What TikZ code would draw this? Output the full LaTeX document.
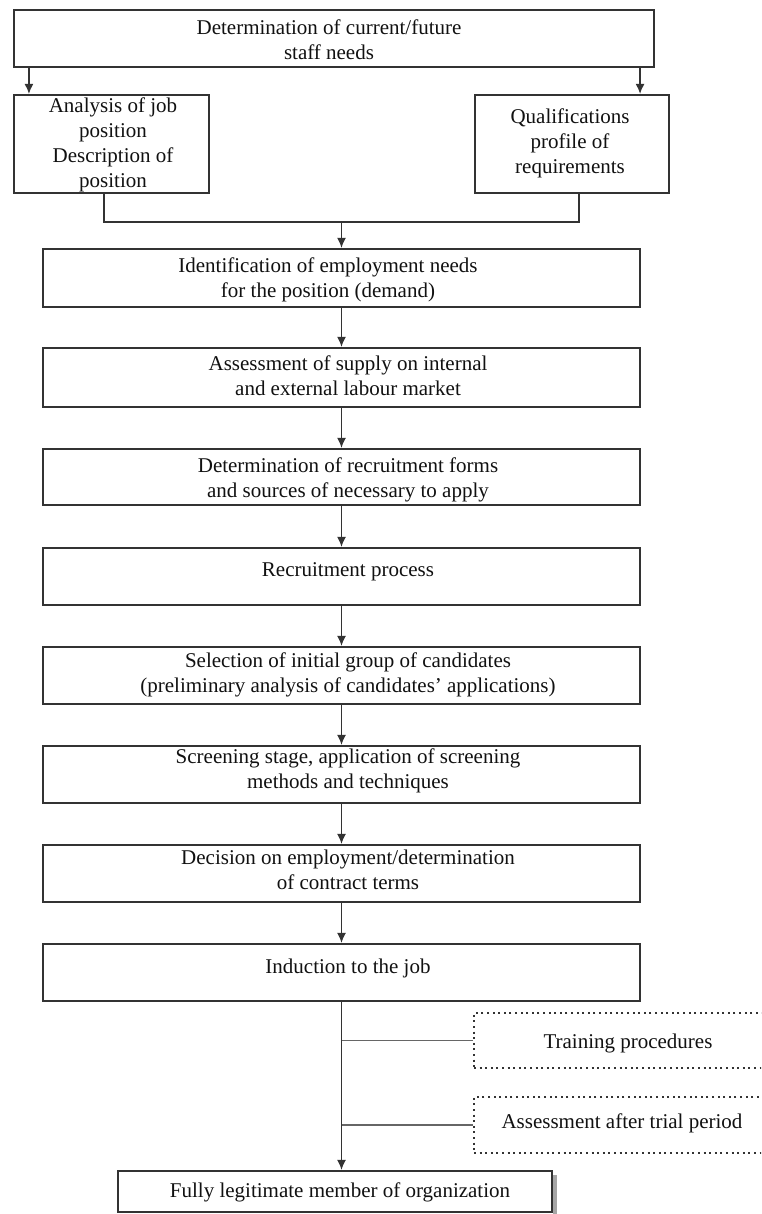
\documentclass[tikz,border=0pt]{standalone}
\usepackage{fontspec}
\setmainfont{Liberation Serif}
\usetikzlibrary{arrows.meta}
\definecolor{ink}{HTML}{333333}
\definecolor{txtc}{HTML}{111111}
\begin{document}
\begin{tikzpicture}[x=1pt,y=1pt,
  box/.style={draw=ink, line width=2.1pt, fill=white, inner sep=0pt},
  dbox/.style={draw=ink, line width=2pt, dash pattern=on 2pt off 3.6pt, inner sep=0pt},
  txt/.style={text=txtc, align=center, font=\fontsize{21}{25}\selectfont, inner sep=0pt},
  arr/.style={draw=ink, line width=1.6pt, -{Latex[length=10pt,width=9pt]}},
  con/.style={draw=ink, line width=1.6pt},
  branch/.style={draw=ink!75, line width=1.6pt}]
\useasboundingbox (0,0) rectangle (761,-1214);
\fill[white] (0,0) rectangle (761,-1214);
\clip (0,0) rectangle (761,-1214);

% boxes
\node[box, minimum width=640pt, minimum height=57pt] (T) at (334,-38.5) {};
\node[box, minimum width=195pt, minimum height=98pt] (L) at (111.5,-144) {};
\node[box, minimum width=194pt, minimum height=98pt] (R) at (572,-144) {};
\node[box, minimum width=597pt, minimum height=58pt] (B1) at (341.5,-278) {};
\node[box, minimum width=597pt, minimum height=59pt] (B2) at (341.5,-377.5) {};
\node[box, minimum width=597pt, minimum height=56pt] (B3) at (341.5,-477) {};
\node[box, minimum width=597pt, minimum height=57pt] (B4) at (341.5,-576.5) {};
\node[box, minimum width=597pt, minimum height=57pt] (B5) at (341.5,-675.5) {};
\node[box, minimum width=597pt, minimum height=57pt] (B6) at (341.5,-774.5) {};
\node[box, minimum width=597pt, minimum height=57pt] (B7) at (341.5,-873.5) {};
\node[box, minimum width=597pt, minimum height=57pt] (B8) at (341.5,-972.5) {};
\node[dbox, minimum width=316pt, minimum height=55pt] (D1) at (632,-1040.5) {};
\node[dbox, minimum width=316pt, minimum height=56pt] (D2) at (632,-1125) {};
\draw[gray!70, line width=4pt] (555,-1175) -- (555,-1214);
\node[box, minimum width=434pt, minimum height=41pt] (F) at (335,-1191.5) {};

% texts
\node[txt] (tT) at (329,-39.5) {Determination of current/future\\staff needs};
\node[txt] (tL) at (113,-145) {Analysis of job\\position\\Description of\\position};
\node[txt] (tR) at (570,-143.5) {Qualifications\\profile of\\requirements};
\node[txt] (t1) at (328,-279.5) {Identification of employment needs\\for the position (demand)};
\node[txt] (t2) at (348,-375.5) {Assessment of supply on internal\\and external labour market};
\node[txt] (t3) at (348,-479.5) {Determination of recruitment forms\\and sources of necessary to apply};
\node[txt] (t4) at (348,-572) {Recruitment process};
\node[txt] (t5) at (348,-675) {Selection of initial group of candidates\\(preliminary analysis of candidates’ applications)};
\node[txt] (t6) at (348,-770.5) {Screening stage, application of screening\\methods and techniques};
\node[txt] (t7) at (348,-869.5) {Decision on employment/determination\\of contract terms};
\node[txt] (t8) at (348,-968) {Induction to the job};
\node[txt] (tD1) at (628,-1043) {Training procedures};
\node[txt] (tD2) at (622,-1123) {Assessment after trial period};
\node[txt] (tF) at (340,-1192) {Fully legitimate member of organization};

% connectors
\draw[arr] ([xshift=16pt]T.south west) -- ([xshift=16pt]L.north west);
\draw[arr] ([xshift=-15pt]T.south east) -- ([xshift=-15pt]T.south east |- R.north);
\coordinate (j) at (341.5,-222);
\draw[con] ([xshift=-7.5pt]L.south) |- (j) -| ([xshift=7pt]R.south);
\draw[arr] (j) -- (B1.north);
\draw[arr] (B1.south) -- (B2.north);
\draw[arr] (B2.south) -- (B3.north);
\draw[arr] (B3.south) -- (B4.north);
\draw[arr] (B4.south) -- (B5.north);
\draw[arr] (B5.south) -- (B6.north);
\draw[arr] (B6.south) -- (B7.north);
\draw[arr] (B7.south) -- (B8.north);
\draw[arr] (B8.south) -- (B8.south |- F.north);
\draw[branch] (B8.south |- D1.west) -- (D1.west);
\draw[branch] (B8.south |- D2.west) -- (D2.west);
\end{tikzpicture}
\end{document}
